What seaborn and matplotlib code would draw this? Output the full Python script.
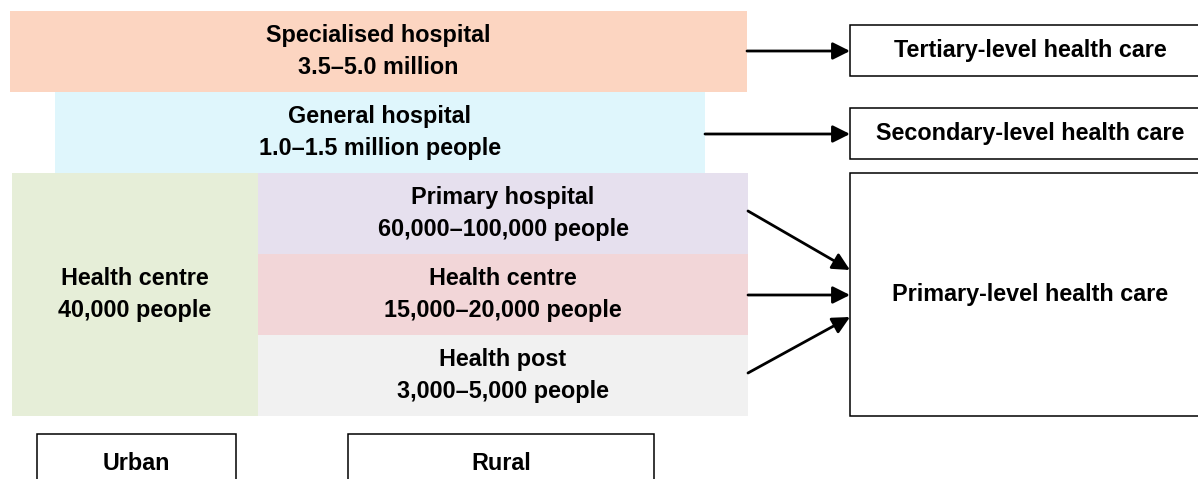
import seaborn as sns
import matplotlib.pyplot as plt
from matplotlib.patches import Rectangle

# tiers of the health system (rural column + hospitals above)
tier_names = ['Specialised hospital', 'General hospital', 'Primary hospital',
              'Health centre', 'Health post']
tier_pops = ['3.5–5.0 million', '1.0–1.5 million people', '60,000–100,000 people',
             '15,000–20,000 people', '3,000–5,000 people']
urban_name = 'Health centre'
urban_pop = '40,000 people'
care_levels = ['Tertiary-level health care', 'Secondary-level health care',
               'Primary-level health care']
settings = ['Urban', 'Rural']

# layout (pixel coords, y downwards)
tier_boxes = [(10, 11, 737, 81), (55, 92, 650, 81), (258, 173, 490, 81),
              (258, 254, 490, 81), (258, 335, 490, 81)]
tier_colors = ['#fcd5c1', '#dff6fc', '#e6e0ee', '#f2d6d8', '#f1f1f1']
urban_box = (12, 173, 246, 243)
urban_color = '#e6eed8'
level_boxes = [(850, 25, 380, 51), (850, 108, 380, 51), (850, 173, 380, 243)]
setting_boxes = [(37, 434, 199, 80), (348, 434, 306, 80)]
arrows = [((747, 51), (850, 51)), ((705, 134), (850, 134)),
          ((748, 211), (850, 270)), ((748, 295), (850, 295)),
          ((748, 373), (850, 317))]

sns.set_theme(style='white')
plt.rcParams['font.family'] = ['Liberation Sans', 'DejaVu Sans']

fig = plt.figure(figsize=(11.98, 4.79), dpi=100)
ax = fig.add_axes([0, 0, 1, 1])
ax.set_xlim(0, 1198)
ax.set_ylim(479, 0)
ax.axis('off')

txt = dict(ha='center', va='center', fontsize=16.8, fontweight='bold',
           color='black', linespacing=1.45)

# coloured tiers
for (x, y, w, h), c, name, pop in zip(tier_boxes, tier_colors, tier_names, tier_pops):
    ax.add_patch(Rectangle((x, y), w, h, facecolor=c, edgecolor='none'))
    ax.text(x + w / 2, y + h / 2, f'{name}\n{pop}', **txt)

x, y, w, h = urban_box
ax.add_patch(Rectangle((x, y), w, h, facecolor=urban_color, edgecolor='none'))
ax.text(x + w / 2, y + h / 2, f'{urban_name}\n{urban_pop}', **txt)

# outlined boxes on the right and at the bottom
for (x, y, w, h), label in zip(level_boxes, care_levels):
    ax.add_patch(Rectangle((x, y), w, h, facecolor='white', edgecolor='black', lw=1.1))
    ax.text(1030, y + h / 2, label, **txt)

for (x, y, w, h), label in zip(setting_boxes, settings):
    ax.add_patch(Rectangle((x, y), w, h, facecolor='white', edgecolor='black', lw=1.1))
    ax.text(x + w / 2, 464, label, **txt)

# arrows
for start, end in arrows:
    ax.annotate('', xy=end, xytext=start,
                arrowprops=dict(arrowstyle='-|>', color='black', lw=2,
                                mutation_scale=26, shrinkA=0, shrinkB=0))

plt.savefig('out.png', dpi=100)
